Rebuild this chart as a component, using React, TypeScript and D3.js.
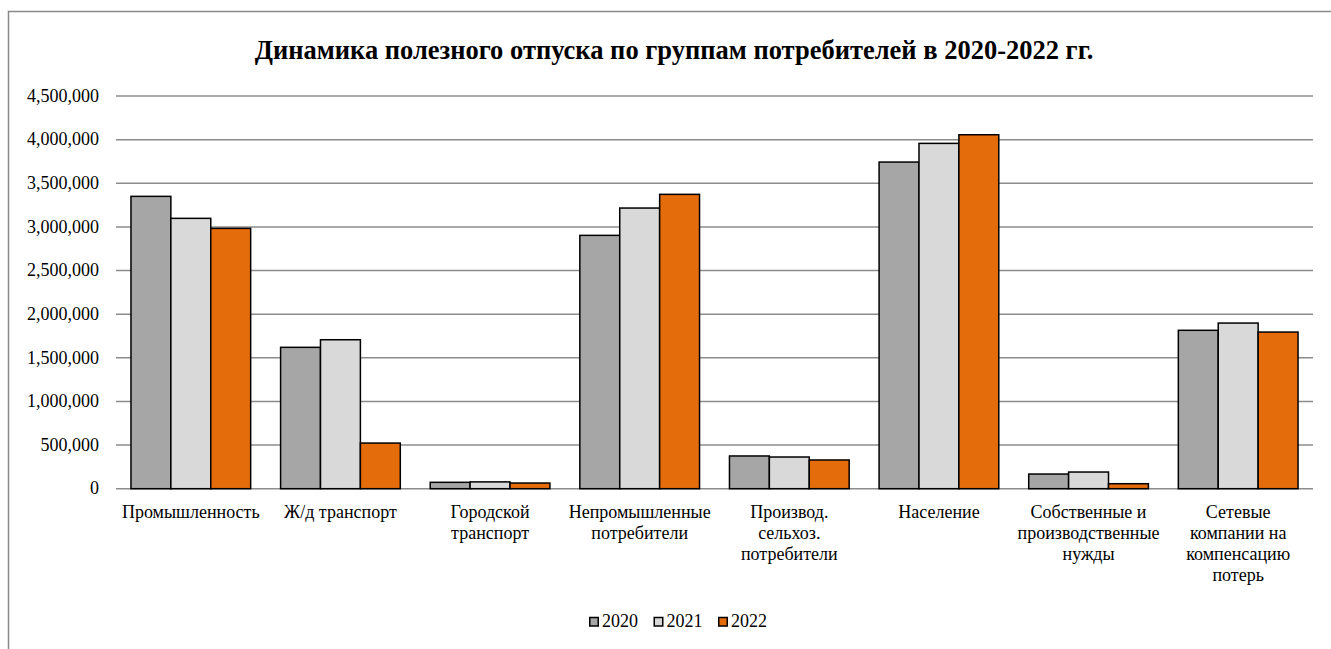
import React from "react";
import * as d3 from "d3";

const categories: string[][] = [
  ["Промышленность"],
  ["Ж/д транспорт"],
  ["Городской", "транспорт"],
  ["Непромышленные", "потребители"],
  ["Производ.", "сельхоз.", "потребители"],
  ["Население"],
  ["Собственные и", "производственные", "нужды"],
  ["Сетевые", "компании на", "компенсацию", "потерь"],
];
const seriesNames = ["2020", "2021", "2022"];
const values2020 = [3350000, 1620000, 73000, 2903000, 375000, 3743000, 168000, 1815000];
const values2021 = [3098000, 1707000, 78000, 3216000, 363000, 3957000, 191000, 1898000];
const values2022 = [2983000, 523000, 65000, 3373000, 329000, 4056000, 57000, 1795000];
const yTicks = [0, 500000, 1000000, 1500000, 2000000, 2500000, 3000000, 3500000, 4000000, 4500000];
const colors = ["#a6a6a6", "#d9d9d9", "#e46c0a"];
const title = "Динамика полезного отпуска по группам потребителей в 2020-2022 гг.";

const W = 1331;
const H = 649;
const FONT = "Liberation Serif";

export default function App() {
  const series = [values2020, values2021, values2022];
  const x = d3
    .scaleBand<number>()
    .domain(d3.range(categories.length))
    .range([116, 1313])
    .paddingInner(0.2)
    .paddingOuter(0.1);
  const xs = d3.scaleBand<number>().domain([0, 1, 2]).range([0, x.bandwidth()]);
  const y = d3.scaleLinear().domain([0, 4500000]).range([488.7, 96]);
  const fmt = d3.format(",");

  const legendStep = 64.5;
  const legendStart = 589;
  const ts = { fontFamily: FONT };

  return (
    <svg
      width={W}
      height={H}
      style={{ position: "absolute", left: 0, top: 0, display: "block", background: "#fff", fontFamily: FONT }}
    >
      <rect x={8.5} y={11.5} width={1400} height={700} fill="#fff" stroke="#898989" strokeWidth={1.5} />
      <text x={674} y={59} textAnchor="middle" fontSize={26.5} fontWeight="bold" fill="#000" style={ts}>
        {title}
      </text>
      {yTicks.map((t) => (
        <g key={t}>
          <line x1={116} x2={1313} y1={y(t)} y2={y(t)} stroke="#8c8c8c" strokeWidth={1.5} />
          <text x={99} y={y(t) + 5.7} textAnchor="end" fontSize={18} fill="#000" style={ts}>
            {fmt(t)}
          </text>
        </g>
      ))}
      {categories.map((c, i) => (
        <g key={i}>
          {series.map((s, j) => (
            <rect
              key={j}
              x={(x(i) as number) + (xs(j) as number)}
              y={y(s[i])}
              width={xs.bandwidth()}
              height={y(0) - y(s[i])}
              fill={colors[j]}
              stroke="#000"
              strokeWidth={1.5}
            />
          ))}
          {c.map((line, k) => (
            <text
              key={k}
              x={(x(i) as number) + x.bandwidth() / 2}
              y={518 + k * 21}
              textAnchor="middle"
              fontSize={18}
              fill="#000"
              style={ts}
            >
              {line}
            </text>
          ))}
        </g>
      ))}
      {seriesNames.map((n, j) => (
        <g key={n} transform={`translate(${legendStart + j * legendStep},0)`}>
          <rect x={0.75} y={617.5} width={8.5} height={8.5} fill={colors[j]} stroke="#000" strokeWidth={1.5} />
          <text x={13} y={627} fontSize={18} fill="#000" style={ts}>
            {n}
          </text>
        </g>
      ))}
    </svg>
  );
}
